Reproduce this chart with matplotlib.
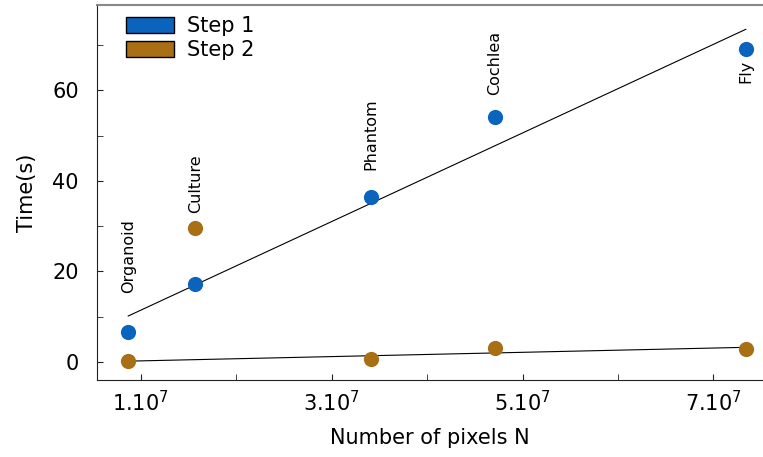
import numpy as np
import matplotlib.pyplot as plt
from matplotlib.patches import Patch
from matplotlib.ticker import MultipleLocator, FuncFormatter

# samples, pixel counts (x1e7) and timings
names = ["Organoid", "Culture", "Phantom", "Cochlea", "Fly"]
pixels = np.array([0.868, 1.571, 3.41, 4.71, 7.34]) * 1e7
step1 = np.array([6.6, 17.2, 36.4, 54.1, 69.1])
step2 = np.array([0.2, 29.6, 0.7, 3.1, 2.9])

blue = "#0a64be"
brown = "#a86f14"

fig = plt.figure(figsize=(7.63, 4.57), dpi=100)
ax = fig.add_axes([0.127, 0.168, 0.873, 0.821])

# linear fits (step 2 fit leaves out the Culture outlier)
p1 = np.polyfit(pixels, step1, 1)
keep = np.array([n != "Culture" for n in names])
p2 = np.polyfit(pixels[keep], step2[keep], 1)
xl = np.array([pixels.min(), pixels.max()])
ax.plot(xl, np.polyval(p1, xl), color="black", lw=0.8, zorder=2)
ax.plot(xl, np.polyval(p2, xl), color="black", lw=0.8, zorder=2)

ax.scatter(pixels, step1, s=120, color=blue, zorder=3, linewidths=0)
ax.scatter(pixels, step2, s=120, color=brown, zorder=3, linewidths=0)

# labels next to the points (gap in data units)
for n, x, y1, y2 in zip(names, pixels, step1, step2):
    if n == "Culture":
        ax.text(x, y2 + 3.3, n, rotation=90, ha="center", va="bottom", fontsize=11.5)
    elif n == "Fly":
        ax.text(x, y1 - 2.4, n, rotation=90, ha="center", va="top", fontsize=11.5)
    elif n == "Organoid":
        ax.text(x, y1 + 8.6, n, rotation=90, ha="center", va="bottom", fontsize=11.5)
    elif n == "Phantom":
        ax.text(x, y1 + 6.0, n, rotation=90, ha="center", va="bottom", fontsize=11.5)
    else:
        ax.text(x, y1 + 4.8, n, rotation=90, ha="center", va="bottom", fontsize=11.5)

ax.set_xlim(0.54e7, 7.52e7)
ax.set_ylim(-4, 78.8)
ax.set_xticks([1e7, 3e7, 5e7, 7e7])
ax.set_xticks([2e7, 4e7, 6e7], minor=True)
ax.xaxis.set_major_formatter(FuncFormatter(lambda v, p: "%d.10$^7$" % round(v / 1e7)))
ax.yaxis.set_major_locator(MultipleLocator(20))
ax.yaxis.set_minor_locator(MultipleLocator(10))
ax.tick_params(which="both", direction="in", labelsize=15, color="#222222", length=4)
ax.tick_params(axis="x", which="both", pad=7)
ax.tick_params(axis="y", which="both", pad=13)
for s in ["left", "bottom"]:
    ax.spines[s].set_color("#222222")
ax.spines["top"].set_color("#888888")
ax.spines["top"].set_linewidth(1.5)
ax.spines["right"].set_visible(False)

ax.set_xlabel("Number of pixels N", fontsize=15, labelpad=9)
ax.set_ylabel("Time(s)", fontsize=15, labelpad=11)

handles = [Patch(facecolor=blue, edgecolor="black", label="Step 1"),
           Patch(facecolor=brown, edgecolor="black", label="Step 2")]
ax.legend(handles=handles, loc="upper left", frameon=False, fontsize=15,
          handlelength=2.3, handleheight=0.75, handletextpad=0.6,
          borderaxespad=0.0, borderpad=0.3,
          bbox_to_anchor=(0.035, 0.987), labelspacing=0.2)

fig.savefig("out.png", dpi=100)
